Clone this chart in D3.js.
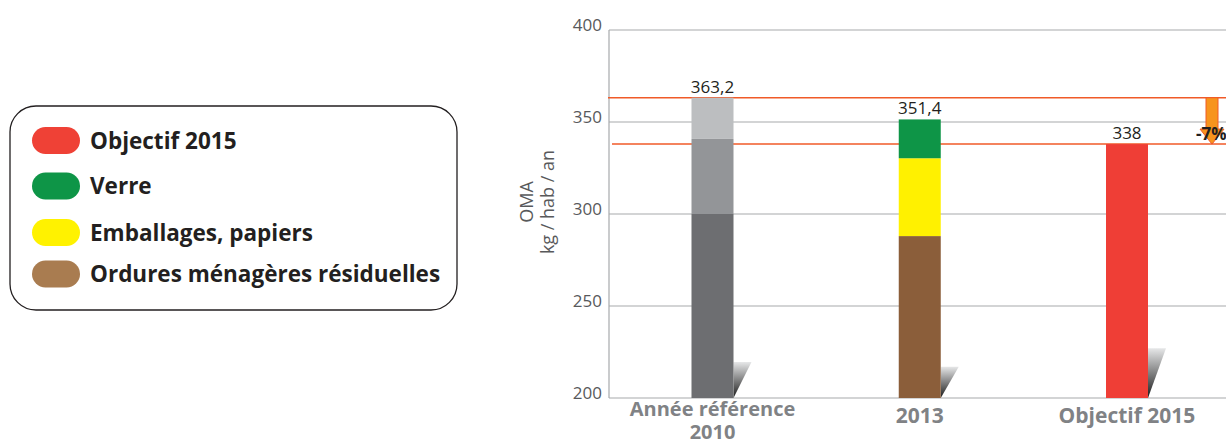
<!DOCTYPE html>
<html><head><meta charset="utf-8">
<script src="https://cdn.jsdelivr.net/npm/d3@7"></script>
<style>body{margin:0;background:#fff;} svg{display:block;font-family:"Open Sans",sans-serif;}</style>
</head><body><svg id="c" width="1226" height="444"></svg>
<script>
const categories = ["Année référence 2010", "2013", "Objectif 2015"];
const categoryLines = [["Année référence", "2010"], ["2013"], ["Objectif 2015"]];
const omr = [300, 288, 0];
const emballages = [40.8, 42.3, 0];
const verre = [22.4, 21.1, 0];
const objectif = [0, 0, 338];
const totalLabels = ["363,2", "351,4", "338"];
const shadowTops = [219.5, 217, 227];
const yTicks = [200, 250, 300, 350, 400];
const refLines = [363.2, 338];
const reductionLabel = "-7%";
const legendItems = ["Objectif 2015", "Verre", "Emballages, papiers", "Ordures ménagères résiduelles"];
const legendColors = ["#ef4136", "#0e9547", "#fff200", "#a97c50"];

const svg = d3.select("#c");
const y = d3.scaleLinear().domain([200, 400]).range([398, 30]);
const x = d3.scalePoint().domain(categories).range([712.5, 1127]);
const bw = 42, left = 609, right = 1226;

const segColors = [
  ["#6d6e71", "#939598", "#bcbec0"],
  ["#8b5e3a", "#fff100", "#0e9547"],
  ["#ef3e36"]
];

const defs = svg.append("defs");
const g = defs.append("linearGradient").attr("id", "sh").attr("x1", 0).attr("y1", 0).attr("x2", 0).attr("y2", 1);
g.append("stop").attr("offset", "0%").attr("stop-color", "#e6e7e8");
g.append("stop").attr("offset", "100%").attr("stop-color", "#1a1a1a");

// grid
svg.append("g").selectAll("line").data(yTicks).join("line")
  .attr("x1", left).attr("x2", right).attr("y1", d => y(d)).attr("y2", d => y(d))
  .attr("stroke", "#a7a9ac").attr("stroke-width", 1.2);
svg.append("line").attr("x1", left).attr("x2", left).attr("y1", y(400)).attr("y2", y(200))
  .attr("stroke", "#a7a9ac").attr("stroke-width", 1.2);

// y tick labels
svg.append("g").selectAll("text").data(yTicks).join("text")
  .attr("x", 602).attr("y", d => y(d) + 1).attr("text-anchor", "end")
  .attr("font-size", 17).attr("fill", "#58595b").text(d => d);

// axis title
const at = svg.append("text").attr("transform", "translate(533,202) rotate(-90)")
  .attr("text-anchor", "middle").attr("font-size", 18).attr("fill", "#58595b");
at.append("tspan").attr("x", 0).attr("dy", 0).text("OMA");
at.append("tspan").attr("x", 0).attr("dy", 21).text("kg / hab / an");

// reference lines
svg.append("g").selectAll("line").data(refLines).join("line")
  .attr("x1", (d, i) => i === 0 ? 608 : 612).attr("x2", right)
  .attr("y1", d => y(d)).attr("y2", d => y(d))
  .attr("stroke", "#f05a28").attr("stroke-width", 1.5);

// shadows
svg.append("g").selectAll("path").data(categories).join("path")
  .attr("d", (c, i) => {
    const rx = x(c) + bw / 2, b = y(200), t = y(shadowTops[i]);
    return `M${rx},${b}L${rx},${t}L${rx + 18},${t}Z`;
  }).attr("fill", "url(#sh)");

// stacked bars
categories.forEach((c, i) => {
  const vals = i === 2 ? [objectif[i]] : [omr[i], emballages[i], verre[i]];
  let cum = 0;
  vals.forEach((v, j) => {
    const lo = Math.max(cum, 200), hi = cum + v;
    svg.append("rect").attr("x", x(c) - bw / 2).attr("width", bw)
      .attr("y", y(hi)).attr("height", y(lo) - y(hi))
      .attr("fill", segColors[i][j]);
    cum = hi;
  });
});

// value labels
const totals = categories.map((c, i) => omr[i] + emballages[i] + verre[i] + objectif[i]);
svg.append("g").selectAll("text").data(categories).join("text")
  .attr("x", d => x(d)).attr("y", (d, i) => y(totals[i]) - 5)
  .attr("text-anchor", "middle").attr("font-size", 17).attr("fill", "#231f20")
  .text((d, i) => totalLabels[i]);

// category labels
categories.forEach((c, i) => {
  const two = categoryLines[i].length > 1;
  const t = svg.append("text").attr("x", x(c)).attr("y", two ? 416 : 423)
    .attr("text-anchor", "middle").attr("font-size", two ? 20 : 21).attr("font-weight", 700).attr("fill", "#808285");
  categoryLines[i].forEach((l, k) => t.append("tspan").attr("x", x(c)).attr("dy", k === 0 ? 0 : 23).text(l));
});

// arrow
const ax = 1212, yt = y(refLines[0]), yb = y(refLines[1]);
svg.append("path").attr("d",
  `M${ax - 6},${yt}L${ax + 6},${yt}L${ax + 6},${yb - 15}L${ax + 12},${yb - 15}L${ax},${yb}L${ax - 12},${yb - 15}L${ax - 6},${yb - 15}Z`)
  .attr("fill", "#f7941d").attr("stroke", "#f05a28").attr("stroke-width", 1);
svg.append("text").attr("x", 1196).attr("y", 140).attr("font-size", 17).attr("font-weight", 700)
  .attr("fill", "#231f20").text(reductionLabel);

// legend
svg.append("rect").attr("x", 10).attr("y", 106).attr("width", 447).attr("height", 204)
  .attr("rx", 26).attr("fill", "#fff").attr("stroke", "#231f20").attr("stroke-width", 1.3);
const ly = [140.5, 186, 232.5, 274];
const lg = svg.append("g").selectAll("g").data(legendItems).join("g")
  .attr("transform", (d, i) => `translate(0,${ly[i]})`);
lg.append("rect").attr("x", 32).attr("y", -13.5).attr("width", 48).attr("height", 27).attr("rx", 13.5)
  .attr("fill", (d, i) => legendColors[i]);
lg.append("text").attr("x", 90).attr("y", 8).attr("font-size", 22.5).attr("font-weight", 700)
  .attr("fill", "#231f20").text(d => d);
</script></body></html>
